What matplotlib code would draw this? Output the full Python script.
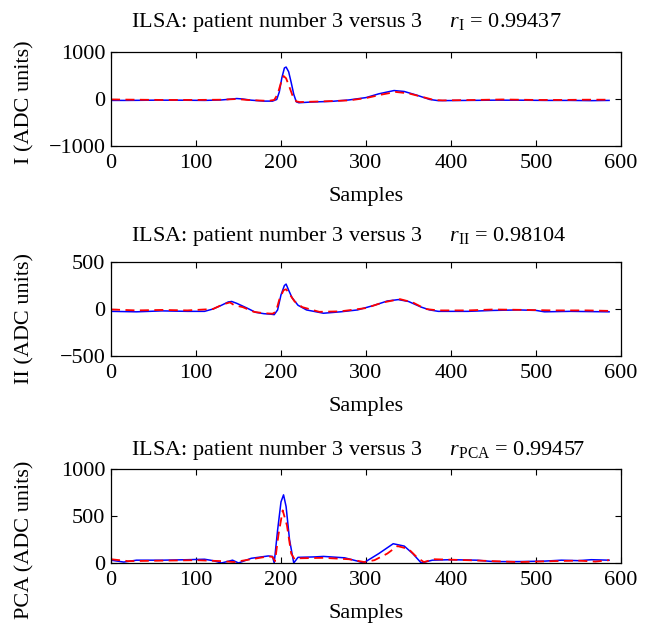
import matplotlib
matplotlib.use("Agg")
import matplotlib.pyplot as plt

plt.rcParams['font.family'] = ['Liberation Serif', 'DejaVu Serif']
plt.rcParams['mathtext.fontset'] = 'custom'
plt.rcParams['mathtext.rm'] = 'Liberation Serif'
plt.rcParams['mathtext.it'] = 'Liberation Serif:italic'
plt.rcParams['mathtext.bf'] = 'Liberation Serif:bold'

# ---------------- data (key points) ----------------
# Lead I
i_meas_x = [0, 20, 50, 80, 110, 130, 140, 148, 155, 165, 180, 190, 195, 198, 201, 204, 206, 209, 212, 215, 218, 221,
            235, 260, 280, 300, 315, 333, 345, 360, 375, 385, 420, 450, 480, 510, 540, 565, 586]
i_meas_y = [-30, -30, -25, -25, -30, -20, -5, 10, 0, -25, -45, -45, -10, 150, 450, 660, 680, 580, 350, 100, -60, -80,
            -65, -50, -20, 30, 110, 180, 160, 80, -10, -35, -30, -25, -25, -30, -30, -35, -30]
i_model_x = [0, 30, 60, 100, 130, 148, 160, 185, 192, 196, 200, 203, 206, 210, 214, 218, 222,
             250, 280, 300, 320, 335, 350, 365, 380, 390, 430, 460, 500, 530, 560, 586]
i_model_y = [-10, -15, -20, -20, -15, 0, -20, -40, -20, 100, 350, 490, 440, 250, 50, -50, -65,
             -50, -30, 20, 100, 150, 120, 50, -20, -30, -20, -10, -20, -20, -15, -15]

# Lead II
ii_meas_x = [0, 30, 60, 90, 110, 120, 130, 138, 142, 148, 160, 170, 180, 188, 192, 196, 200, 204, 206, 209, 213, 220,
             230, 250, 270, 290, 310, 325, 338, 350, 365, 375, 385, 420, 450, 480, 500, 510, 540, 586]
ii_meas_y = [-25, -30, -20, -25, -25, 0, 40, 75, 80, 60, 10, -35, -50, -55, -60, -10, 150, 250, 265, 200, 120, 40,
             -10, -45, -30, -10, 40, 85, 100, 80, 20, -10, -25, -25, -15, -10, -15, -30, -25, -30]
ii_model_x = [0, 30, 60, 90, 120, 132, 140, 145, 155, 168, 180, 190, 194, 198, 203, 206, 210, 216, 225,
              245, 270, 300, 320, 340, 355, 370, 385, 420, 450, 490, 520, 560, 586]
ii_model_y = [-5, -15, -10, -15, 0, 50, 70, 40, 20, -30, -45, -50, -30, 100, 200, 210, 160, 80, 20,
              -30, -25, 10, 70, 105, 70, 0, -15, -15, -5, -10, -15, -15, -20]

# PCA
pca_meas_x = [0, 15, 30, 60, 90, 110, 120, 130, 143, 150, 165, 185, 190, 192, 196, 200, 203, 206, 210, 215, 220,
              240, 250, 275, 290, 297, 315, 332, 345, 355, 365, 378, 400, 430, 450, 480, 510, 530, 550, 565, 586]
pca_meas_y = [30, 10, 30, 30, 35, 40, 25, 0, 30, 0, 50, 75, 70, 0, 350, 650, 725, 600, 250, 0, 60,
              65, 70, 55, 20, 0, 100, 205, 180, 100, 0, 30, 35, 30, 15, 15, 20, 30, 25, 35, 30]
pca_model_x = [0, 20, 60, 100, 130, 145, 165, 185, 190, 193, 197, 202, 207, 212, 216, 220,
               250, 280, 298, 310, 325, 337, 350, 360, 368, 380, 420, 450, 480, 520, 550, 570, 586]
pca_model_y = [40, 20, 25, 30, 20, 10, 40, 70, 65, 20, 300, 560, 400, 100, 40, 50,
               55, 40, 10, 30, 100, 180, 150, 60, 10, 40, 30, 20, 10, 20, 25, 15, 30]

titles = ['ILSA: patient number 3 versus 3     $r_{\\mathrm{I}}$ = 0.99437',
          'ILSA: patient number 3 versus 3     $r_{\\mathrm{II}}$ = 0.98104',
          'ILSA: patient number 3 versus 3     $r_{\\mathrm{PCA}}$ = 0.99457']
ylabels = ['I (ADC units)', 'II (ADC units)', 'PCA (ADC units)']
yticks = [[-1000, 0, 1000], [-500, 0, 500], [0, 500, 1000]]
xticks = [0, 100, 200, 300, 400, 500, 600]

series = [(i_meas_x, i_meas_y, i_model_x, i_model_y),
          (ii_meas_x, ii_meas_y, ii_model_x, ii_model_y),
          (pca_meas_x, pca_meas_y, pca_model_x, pca_model_y)]

# ---------------- figure ----------------
W, H = 650, 639
fig = plt.figure(figsize=(W / 100, H / 100), dpi=100)
left, right = 111, 621
tops = [52, 262, 469]
title_off = [30, 25, 19]
ylab_center = [102, 318, 540]
ah = 94
FS = 16

for k in range(3):
    top = tops[k]
    ax = fig.add_axes([left / W, 1 - (top + ah) / H, (right - left) / W, ah / H])
    mx, my, rx, ry = series[k]
    ax.plot(mx, my, color='#0000ff', lw=1.1, solid_joinstyle='round')
    ax.plot(rx, ry, color='#ff0000', lw=1.3, ls=(0, (5, 3)))
    ax.set_xlim(0, 600)
    ax.set_ylim(yticks[k][0], yticks[k][-1])
    ax.set_xticks(xticks)
    ax.set_yticks(yticks[k])
    ax.tick_params(direction='in', top=True, right=True, length=4, width=0.8,
                   labelsize=FS, pad=4)
    ax.tick_params(axis='x', pad=6)
    for s in ax.spines.values():
        s.set_linewidth(0.9)
    ax.set_xlabel('Samples', fontsize=FS, labelpad=10)
    ax.set_ylabel(ylabels[k], fontsize=FS)
    ax.yaxis.set_label_coords(-0.15, (top + ah - ylab_center[k]) / ah)
    ax.text(0.04, 1 + title_off[k] / ah, titles[k], transform=ax.transAxes, ha='left', va='center',
            fontsize=FS)

fig.savefig('out.png', dpi=100)
